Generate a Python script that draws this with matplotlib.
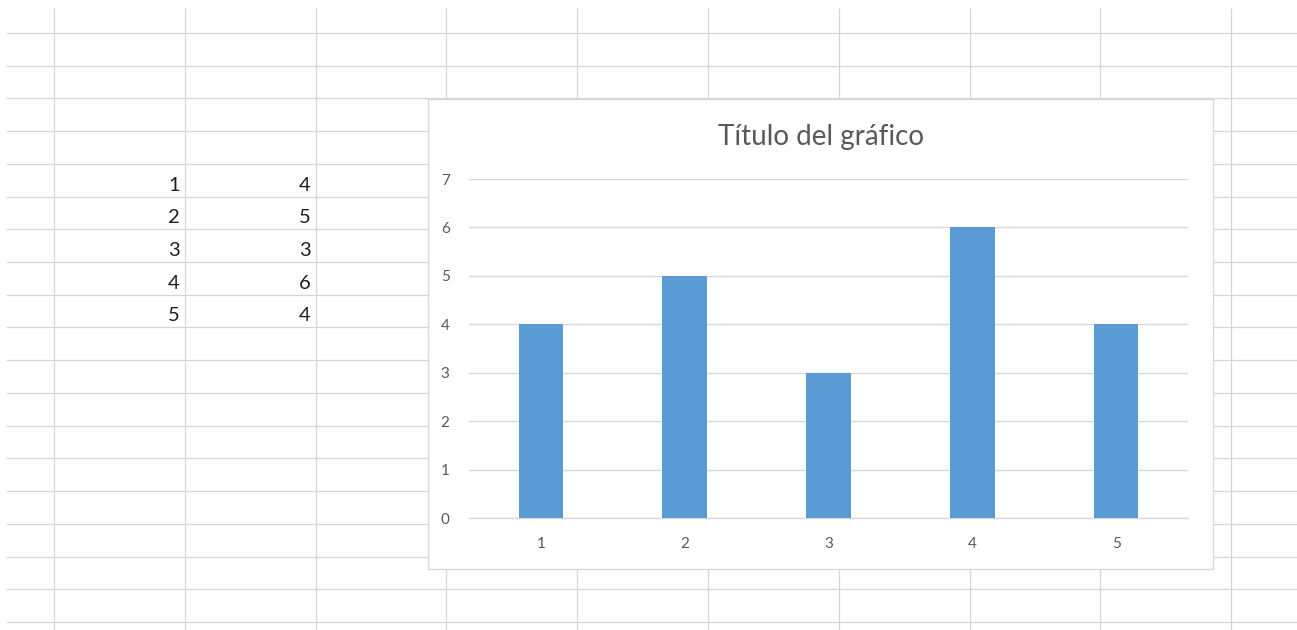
import matplotlib
matplotlib.use("Agg")
import matplotlib.pyplot as plt
from matplotlib.patches import Rectangle

# ---- data ----
categories = [1, 2, 3, 4, 5]
values = [4, 5, 3, 6, 4]
y_ticks = [0, 1, 2, 3, 4, 5, 6, 7]
title = "Título del gráfico"

plt.rcParams['font.family'] = ['Lato', 'DejaVu Sans']

W, H = 1297, 630
fig = plt.figure(figsize=(W / 100, H / 100), dpi=100)
fig.patch.set_facecolor('white')

# ---- spreadsheet background (pixel coordinates) ----
bg = fig.add_axes([0, 0, 1, 1])
bg.set_xlim(0, W)
bg.set_ylim(H, 0)
bg.axis('off')

grid_c = '#d6d6d6'
row0, row_step, n_rows = 33.0, 32.72, 19
col0, col_step, n_cols = 54.0, 130.8, 10
for i in range(n_rows):
    y = row0 + i * row_step
    bg.plot([6, W], [y, y], color=grid_c, lw=0.9, zorder=1, solid_capstyle='butt')
for j in range(n_cols):
    x = col0 + j * col_step
    bg.plot([x, x], [8, H], color=grid_c, lw=0.9, zorder=1, solid_capstyle='butt')

# data cells (columns B and C, starting at row index 4)
first_row = 4
for k, (a, b) in enumerate(zip(categories, values)):
    y_bottom = row0 + (first_row + k + 1) * row_step
    bg.text(col0 + 1 * col_step - 5, y_bottom - 6, str(a), ha='right', va='baseline',
            fontsize=14.5, color='#1f1f1f', zorder=2)
    bg.text(col0 + 2 * col_step - 5, y_bottom - 6, str(b), ha='right', va='baseline',
            fontsize=14.5, color='#1f1f1f', zorder=2)

# chart box
bg.add_patch(Rectangle((428, 99), 1213 - 428, 569 - 99, facecolor='white',
                       edgecolor='#d9d9d9', lw=1.0, zorder=3))
bg.text((428 + 1213) / 2, 137, title, ha='center', va='center', fontsize=20,
        color='#595959', zorder=4)

# ---- bar chart plot area ----
pl, pr, pt, pb = 469, 1188, 179, 518
ax = fig.add_axes([pl / W, (H - pb) / H, (pr - pl) / W, (pb - pt) / H])
ax.set_facecolor('none')
ax.bar(categories, values, width=0.31, color='#5b9bd5', zorder=3)
ax.set_xlim(0.5, len(categories) + 0.5)
ax.set_ylim(0, 7)
ax.set_yticks(y_ticks)
ax.set_xticks(categories)
ax.set_xticklabels([str(c) for c in categories])
ax.yaxis.grid(True, color='#d9d9d9', lw=1.0, zorder=0)
ax.set_axisbelow(True)
for s in ['left', 'right', 'top']:
    ax.spines[s].set_visible(False)
ax.spines['bottom'].set_color('#d9d9d9')
ax.spines['bottom'].set_linewidth(1.0)
ax.tick_params(axis='both', length=0, labelsize=11, labelcolor='#595959')
ax.tick_params(axis='y', pad=14)
ax.tick_params(axis='x', pad=14)

fig.savefig('out.png', dpi=100, facecolor='white')
